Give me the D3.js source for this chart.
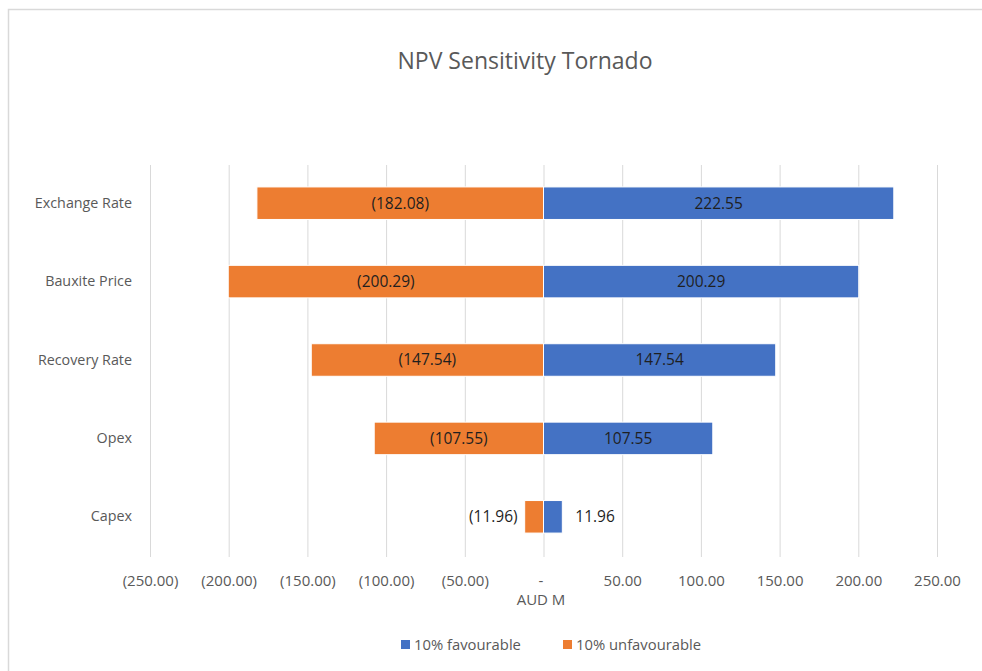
<!DOCTYPE html>
<html><head><meta charset="utf-8">
<script src="https://cdn.jsdelivr.net/npm/d3@7"></script>
<style>body{margin:0;background:#fff;} svg{display:block;font-family:"Open Sans","Noto Sans",sans-serif;}</style>
</head><body><svg id="c" width="982" height="671"></svg>
<script>
const categories = ["Exchange Rate","Bauxite Price","Recovery Rate","Opex","Capex"];
const favourable = [222.55, 200.29, 147.54, 107.55, 11.96];
const unfavourable = [-182.08, -200.29, -147.54, -107.55, -11.96];
const tickValues = [-250,-200,-150,-100,-50,0,50,100,150,200,250];
const seriesNames = ["10% favourable","10% unfavourable"];
const colors = ["#4472C4","#ED7D31"];

const svg = d3.select("#c");
svg.append("rect").attr("x",8.5).attr("y",9.5).attr("width",1000).attr("height",700)
  .attr("fill","#fff").attr("stroke","#d9d9d9").attr("stroke-width",1.5);

const x = d3.scaleLinear().domain([-250,250]).range([150,937]);
const y = d3.scaleBand().domain(categories).range([164,556]).paddingInner(0.585).paddingOuter(0.2925);

const fmt = v => v===0 ? "-" : (v<0 ? "("+d3.format(",.2f")(-v)+")" : d3.format(",.2f")(v));

// gridlines
svg.append("g").selectAll("line").data(tickValues).join("line")
  .attr("x1",d=>x(d)+0.5).attr("x2",d=>x(d)+0.5).attr("y1",165).attr("y2",557)
  .attr("stroke","#d9d9d9").attr("stroke-width",1);

// x axis labels
const xAxis = d3.axisBottom(x).tickValues(tickValues).tickFormat(fmt).tickSize(0).tickPadding(0);
const gx = svg.append("g").attr("transform","translate(0,572)").call(xAxis);
gx.select(".domain").remove();
gx.selectAll("text").attr("fill","#595959").attr("font-size",15).attr("font-family","'Open Sans','Noto Sans',sans-serif")
  .attr("dy","0.9em").attr("dx",d=>d===0?-3:0);

// y axis labels
const yAxis = d3.axisLeft(y).tickSize(0).tickPadding(0);
const gy = svg.append("g").attr("transform","translate(132,0)").call(yAxis);
gy.select(".domain").remove();
gy.selectAll("text").attr("fill","#595959").attr("font-size",14.3).attr("font-family","'Open Sans','Noto Sans',sans-serif");

const data = categories.map((c,i)=>({c, fav:favourable[i], unf:unfavourable[i]}));

// bars
svg.append("g").selectAll("rect").data(data).join("rect")
  .attr("x",d=>x(d.unf)).attr("width",d=>x(0)-x(d.unf))
  .attr("y",d=>y(d.c)).attr("height",y.bandwidth())
  .attr("fill",colors[1]).attr("stroke","#fff").attr("stroke-width",1);
svg.append("g").selectAll("rect").data(data).join("rect")
  .attr("x",x(0)).attr("width",d=>x(d.fav)-x(0))
  .attr("y",d=>y(d.c)).attr("height",y.bandwidth())
  .attr("fill",colors[0]).attr("stroke","#fff").attr("stroke-width",1);

// labels
const lbl = svg.append("g").attr("font-size",15.5).attr("fill","#1f1f1f");
data.forEach(d=>{
  const yc = y(d.c)+y.bandwidth()/2;
  const wU = x(0)-x(d.unf), wF = x(d.fav)-x(0);
  if (wU > 80) {
    lbl.append("text").attr("x",(x(d.unf)+x(0))/2).attr("y",yc).attr("dy","0.35em").attr("text-anchor","middle").text(fmt(d.unf));
  } else {
    lbl.append("text").attr("x",x(d.unf)-7).attr("y",yc).attr("dy","0.35em").attr("text-anchor","end").text(fmt(d.unf));
  }
  if (wF > 80) {
    lbl.append("text").attr("x",(x(d.fav)+x(0))/2).attr("y",yc).attr("dy","0.35em").attr("text-anchor","middle").text(fmt(d.fav));
  } else {
    lbl.append("text").attr("x",x(d.fav)+13).attr("y",yc).attr("dy","0.35em").attr("text-anchor","start").text(fmt(d.fav));
  }
});

// title
svg.append("text").attr("x",525).attr("y",69).attr("text-anchor","middle")
  .attr("font-size",23).attr("fill","#595959").text("NPV Sensitivity Tornado");

// axis title
svg.append("text").attr("x",541).attr("y",605).attr("text-anchor","middle")
  .attr("font-size",15).attr("fill","#595959").text("AUD M");

// legend
const leg = svg.append("g");
const legX = [401, 563];
seriesNames.forEach((n,i)=>{
  leg.append("rect").attr("x",legX[i]).attr("y",640).attr("width",9).attr("height",9).attr("fill",colors[i]);
  leg.append("text").attr("x",legX[i]+13).attr("y",645).attr("dy","0.35em")
    .attr("font-size",14.8).attr("fill","#595959").text(n);
});
</script></body></html>
